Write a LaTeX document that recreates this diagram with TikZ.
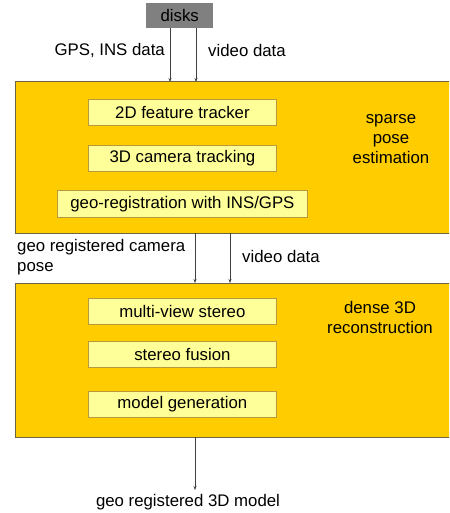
\documentclass[tikz,border=0pt]{standalone}
\usepackage{fontspec}
\setmainfont{Liberation Sans}
\usetikzlibrary{arrows.meta}
\definecolor{stagefill}{HTML}{FFCC00}
\definecolor{stageline}{HTML}{6E6440}
\definecolor{stepfill}{HTML}{FFFF99}
\definecolor{stepline}{HTML}{B89A3C}
\definecolor{diskfill}{HTML}{808080}
\definecolor{arrowcol}{HTML}{404040}
\tikzset{
  every node/.style={font=\fontsize{16.8}{20}\selectfont, inner sep=0pt},
  stagebox/.style={draw=stageline, fill=stagefill, line width=1pt},
  stepbox/.style={draw=stepline, fill=stepfill, line width=0.8pt, anchor=north west},
  flow/.style={draw=arrowcol, line width=0.6pt, -{Stealth[length=4pt,width=3pt]}},
  lbl/.style={align=center}
}
\begin{document}
\begin{tikzpicture}[x=1pt,y=-1pt]
\useasboundingbox (0,0) rectangle (449,513);
\begin{scope}
\clip (0,0) rectangle (449,513);
% disks
\node[fill=diskfill, minimum width=67pt, minimum height=25pt, anchor=north west] (disks) at (146,3) {disks};
% top stage
\draw[stagebox] (15,82) rectangle (460,233);
\coordinate (topin1) at (170,82);
\coordinate (topin2) at (196,82);
\node[stepbox, minimum width=188pt, minimum height=26pt] (tracker) at (88,99) {2D feature tracker};
\node[stepbox, minimum width=188pt, minimum height=26pt] (camtrack) at (88,145) {3D camera tracking};
\node[stepbox, minimum width=250pt, minimum height=27pt] (georeg) at (57,190) {geo-registration with INS/GPS};
\node[lbl] (sparse) at (391,139) {sparse\\pose\\estimation};
% bottom stage
\draw[stagebox] (15,283) rectangle (460,437);
\coordinate (topout1) at (195,233);
\coordinate (topout2) at (230,233);
\coordinate (botin1) at (195,283);
\coordinate (botin2) at (230,283);
\node[stepbox, minimum width=188pt, minimum height=26pt] (mvs) at (88,298) {multi-view stereo};
\node[stepbox, minimum width=188pt, minimum height=26pt] (fusion) at (88,341) {stereo fusion};
\node[stepbox, minimum width=188pt, minimum height=26pt] (modelgen) at (88,391) {model generation};
\node[lbl] (dense) at (380,317) {dense 3D\\reconstruction};
\coordinate (botout) at (195,437);
\coordinate (modelend) at (195,490);
\end{scope}
% connectors
\draw[flow] (disks.south -| topin1) -- (topin1);
\draw[flow] (disks.south -| topin2) -- (topin2);
\draw[flow] (topout1) -- (botin1);
\draw[flow] (topout2) -- (botin2);
\draw[flow] (botout) -- (modelend);
% labels
\node[anchor=east] (gpslbl) at (165,50) {GPS, INS data};
\node[anchor=west] (vidlbl1) at (208,50) {video data};
\node[anchor=west, align=left] (poselbl) at (17,257) {geo registered camera\\pose};
\node[anchor=west] (vidlbl2) at (242,256) {video data};
\node (modellbl) at (188,502) {geo registered 3D model};
\end{tikzpicture}
\end{document}
